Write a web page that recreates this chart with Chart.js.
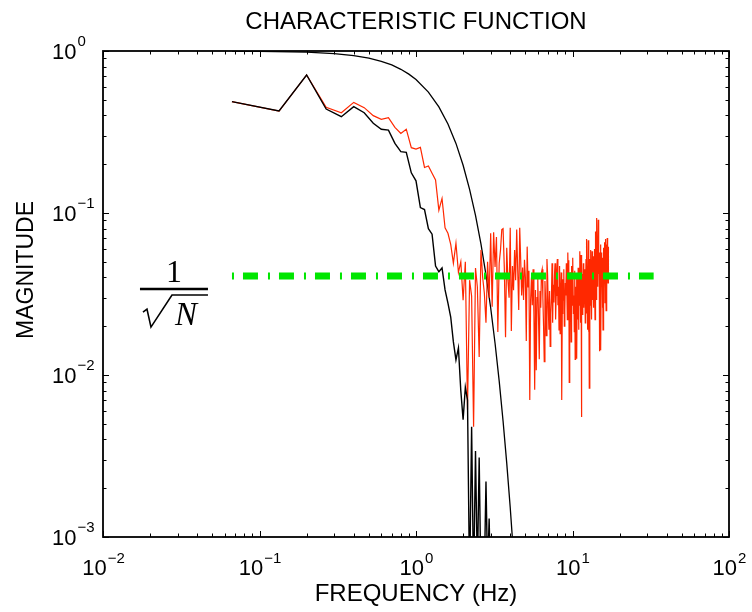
<!DOCTYPE html>
<html>
<head>
<meta charset="utf-8">
<script src="https://cdn.jsdelivr.net/npm/chart.js@4.4.1/dist/chart.umd.min.js"></script>
<style>
  html, body { margin: 0; padding: 0; background: #fff; }
</style>
</head>
<body>
<canvas id="myChart" width="752" height="612"></canvas>
<script>
// spectrum bins are spaced 1/15 Hz apart, first bin at 1/15 Hz
const df = 1 / 15;

// measured spectrum (red)
const redMag = [
    0.487, 0.426, 0.711, 0.449, 0.416, 0.482, 0.447, 0.399, 0.379, 0.388,
    0.338, 0.310, 0.329, 0.253, 0.248, 0.254, 0.191, 0.195, 0.176, 0.160,
    0.104, 0.123, 0.081, 0.075, 0.064, 0.049, 0.065, 0.043, 0.050, 0.029,
    0.050, 0.0061, 0.0385, 0.0307, 0.0048, 0.0458, 0.0349, 0.0129, 0.059, 0.040,
    0.0321, 0.021, 0.050, 0.030, 0.075, 0.0264, 0.076, 0.0465, 0.071, 0.0184,
    0.049, 0.059, 0.079, 0.080, 0.046, 0.0171, 0.061, 0.0385, 0.030, 0.081,
    0.0187, 0.047, 0.0334, 0.059, 0.0385, 0.079, 0.044, 0.0252, 0.081, 0.051,
    0.031, 0.046, 0.029, 0.0514, 0.040, 0.0162, 0.062, 0.035, 0.044, 0.0070,
    0.029, 0.040, 0.027, 0.045, 0.024, 0.0081, 0.0335, 0.0107, 0.030, 0.040,
    0.022, 0.0125, 0.033, 0.026, 0.043, 0.045, 0.030, 0.020, 0.0121, 0.038,
    0.029, 0.0175, 0.052, 0.041, 0.026, 0.019, 0.033, 0.015, 0.024, 0.030,
    0.049, 0.021, 0.036, 0.028, 0.041, 0.049, 0.022, 0.031, 0.044, 0.052,
    0.027, 0.035, 0.019, 0.047, 0.018, 0.031, 0.043, 0.0070, 0.024, 0.039,
    0.029, 0.045, 0.020, 0.025, 0.037, 0.031, 0.049, 0.033, 0.022, 0.057,
    0.036, 0.051, 0.009, 0.028, 0.043, 0.034, 0.016, 0.047, 0.027, 0.038,
    0.053, 0.024, 0.031, 0.0185, 0.044, 0.0125, 0.035, 0.029, 0.041, 0.0126,
    0.039, 0.022, 0.046, 0.019, 0.031, 0.027, 0.058, 0.033, 0.021, 0.055,
    0.0055, 0.030, 0.042, 0.0235, 0.036, 0.049, 0.026, 0.033, 0.029, 0.045,
    0.021, 0.038, 0.052, 0.024, 0.069, 0.031, 0.044, 0.019, 0.068, 0.0185,
    0.041, 0.0083, 0.035, 0.052, 0.027, 0.059, 0.033, 0.046, 0.022, 0.058,
    0.029, 0.041, 0.049, 0.026, 0.054, 0.031, 0.060, 0.037, 0.022, 0.045,
    0.077, 0.041, 0.052, 0.029, 0.093, 0.048, 0.062, 0.035, 0.091, 0.068,
    0.042, 0.057, 0.014, 0.039, 0.049, 0.031, 0.064, 0.0142, 0.044, 0.057,
    0.036, 0.047, 0.026, 0.053, 0.019, 0.042, 0.061, 0.034, 0.059, 0.045,
    0.066, 0.028, 0.050, 0.069, 0.039, 0.025, 0.055, 0.064, 0.033, 0.070,
    0.046, 0.058, 0.037, 0.062, 0.049
];

// noise-free spectrum (black, jagged)
const blackMag = [
    0.487, 0.426, 0.711, 0.438, 0.393, 0.453, 0.416, 0.358, 0.329, 0.325,
    0.269, 0.239, 0.237, 0.177, 0.158, 0.108, 0.105, 0.080, 0.074, 0.047,
    0.0434, 0.0458, 0.0335, 0.0278, 0.0228, 0.0160, 0.0124, 0.0147, 0.0080, 0.0053,
    0.0084, 0.0070, 0.0005, 0.0048, 0.0005, 0.0034, 0.0006, 0.0031, 0.0005, 0.0007,
    0.0006, 0.0022, 0.0006, 0.0013, 0.0005
];

// characteristic function (black, smooth)
const modelFreq = [0.0667, 0.1, 0.2, 0.3, 0.4, 0.5, 0.6, 0.7, 0.8, 0.9, 1.0, 1.2, 1.4,
    1.6, 1.8, 2.0, 2.2, 2.4, 2.6, 2.8, 3.0, 3.2, 3.4, 3.6, 3.8, 4.0, 4.2];
const modelMag = [0.998, 0.996, 0.984, 0.964, 0.937, 0.904, 0.864, 0.820, 0.771, 0.720, 0.666,
    0.558, 0.452, 0.354, 0.269, 0.197, 0.140, 0.0966, 0.0644, 0.0415, 0.0260, 0.0157,
    0.0092, 0.0052, 0.00286, 0.00152, 0.00078];

// 1/sqrt(N) threshold, N = 600
const thresholdFreq = [0.0667, 33];
const thresholdMag = 0.0408;

const xDecades = [-2, -1, 0, 1, 2];
const yDecades = [-3, -2, -1, 0];

function binPoints(mags) {
    return mags.map((v, i) => ({ x: (i + 1) * df, y: v }));
}

const FONT = "'Liberation Sans', Arial, sans-serif";
const SERIF = "'Liberation Serif', 'DejaVu Serif', serif";

// box, inward ticks, power-of-ten labels, axis titles, 1/sqrt(N) note
const axesDecor = {
    id: 'axesDecor',
    afterDraw(chart) {
        const ctx = chart.ctx, a = chart.chartArea;
        const x = chart.scales.x, y = chart.scales.y;
        ctx.save();
        ctx.strokeStyle = '#000';
        ctx.lineWidth = 1;
        ctx.beginPath();
        xDecades.forEach(e => {
            for (let m = 1; m <= 9; m++) {
                if (e == 2 && m > 1) break;
                const px = Math.round(x.getPixelForValue(m * Math.pow(10, e))) + 0.5;
                const len = m == 1 ? 6 : 3.5;
                ctx.moveTo(px, a.bottom); ctx.lineTo(px, a.bottom - len);
                ctx.moveTo(px, a.top); ctx.lineTo(px, a.top + len);
            }
        });
        yDecades.forEach(e => {
            for (let m = 1; m <= 9; m++) {
                if (e == 0 && m > 1) break;
                const py = Math.round(y.getPixelForValue(m * Math.pow(10, e))) + 0.5;
                const len = m == 1 ? 6 : 3.5;
                ctx.moveTo(a.left, py); ctx.lineTo(a.left + len, py);
                ctx.moveTo(a.right, py); ctx.lineTo(a.right - len, py);
            }
        });
        ctx.stroke();
        ctx.lineWidth = 1.8;
        ctx.strokeRect(a.left, a.top, a.right - a.left, a.bottom - a.top);

        // tick labels
        ctx.fillStyle = '#000';
        ctx.textBaseline = 'alphabetic';
        xDecades.forEach(e => {
            const px = x.getPixelForValue(Math.pow(10, e));
            const exp = e < 0 ? '\u2212' + (-e) : String(e);
            ctx.font = '22px ' + FONT;
            const w1 = ctx.measureText('10').width;
            ctx.font = '15px ' + FONT;
            const w2 = ctx.measureText(exp).width;
            const x0 = px - (w1 + w2) / 2;
            ctx.textAlign = 'left';
            ctx.font = '22px ' + FONT;
            ctx.fillText('10', x0, a.bottom + 38);
            ctx.font = '15px ' + FONT;
            ctx.fillText(exp, x0 + w1 + 1, a.bottom + 26);
        });
        yDecades.forEach(e => {
            const py = y.getPixelForValue(Math.pow(10, e));
            const exp = e < 0 ? '\u2212' + (-e) : String(e);
            ctx.textAlign = 'left';
            ctx.font = '22px ' + FONT;
            const w1 = ctx.measureText('10').width;
            ctx.fillText('10', a.left - 51, py + 8);
            ctx.font = '15px ' + FONT;
            ctx.fillText(exp, a.left - 51 + w1 + 1, py - 5);
        });

        // axis titles
        ctx.font = '24px ' + FONT;
        ctx.textAlign = 'center';
        ctx.fillText('FREQUENCY (Hz)', (a.left + a.right) / 2, a.bottom + 64);
        ctx.save();
        ctx.font = '23px ' + FONT;
        ctx.translate(33, 270);
        ctx.rotate(-Math.PI / 2);
        ctx.fillText('MAGNITUDE', 0, 0);
        ctx.restore();

        // 1/sqrt(N) next to the threshold line
        const gx = x.getPixelForValue(thresholdFreq[0]);
        const gy = y.getPixelForValue(thresholdMag);
        ctx.font = '32px ' + SERIF;
        ctx.textAlign = 'center';
        ctx.fillText('1', gx - 58, gy + 6);
        ctx.lineWidth = 2.5;
        ctx.beginPath();
        ctx.moveTo(gx - 92, gy + 13); ctx.lineTo(gx - 24, gy + 13);
        ctx.stroke();
        ctx.lineWidth = 1.6;
        ctx.beginPath();
        ctx.moveTo(gx - 89, gy + 36);
        ctx.lineTo(gx - 85, gy + 33);
        ctx.lineTo(gx - 81, gy + 51);
        ctx.lineTo(gx - 60, gy + 19);
        ctx.lineTo(gx - 24, gy + 19);
        ctx.stroke();
        ctx.font = 'italic 33px ' + SERIF;
        ctx.textAlign = 'left';
        ctx.fillText('N', gx - 57, gy + 49);
        ctx.restore();
    }
};

var chart = new Chart(document.getElementById('myChart').getContext('2d'), {
    type: 'line',
    data: {
        datasets: [{
            label: '1/sqrt(N)',
            data: thresholdFreq.map(f => ({ x: f, y: thresholdMag })),
            borderColor: 'rgb(0, 230, 0)',
            borderWidth: 7,
            borderDash: [2, 9, 15, 10],
            borderCapStyle: 'butt',
            order: 0
        }, {
            label: 'noise-free',
            data: binPoints(blackMag),
            borderColor: '#000',
            borderWidth: 1.4,
            order: 1
        }, {
            label: 'measured',
            data: binPoints(redMag),
            borderColor: 'rgb(255, 40, 0)',
            borderWidth: 1.2,
            order: 2
        }, {
            label: 'characteristic',
            data: modelFreq.map((f, i) => ({ x: f, y: modelMag[i] })),
            borderColor: '#000',
            borderWidth: 1.3,
            order: 3
        }]
    },
    options: {
        responsive: false,
        animation: false,
        layout: { padding: { left: 103, right: 23, top: 0, bottom: 75 } },
        elements: { point: { radius: 0 }, line: { tension: 0 } },
        plugins: {
            legend: { display: false },
            tooltip: { enabled: false },
            title: {
                display: true,
                text: 'CHARACTERISTIC FUNCTION',
                fullSize: false,
                color: '#000',
                font: { family: FONT, size: 24, weight: 'normal' },
                padding: { top: 8, bottom: 14.2 }
            }
        },
        scales: {
            x: { type: 'logarithmic', min: 0.01, max: 100, display: false },
            y: { type: 'logarithmic', min: 0.001, max: 1, display: false }
        }
    },
    plugins: [axesDecor]
});
</script>
</body>
</html>
